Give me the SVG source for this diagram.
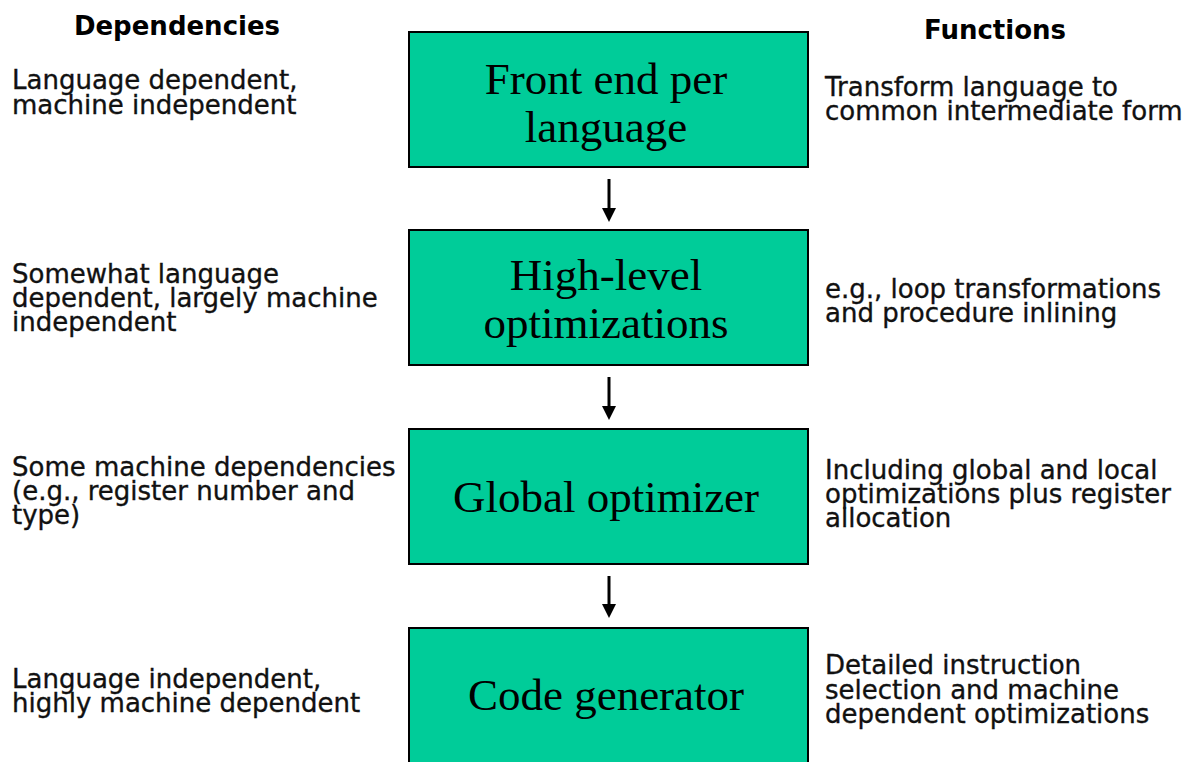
<svg xmlns="http://www.w3.org/2000/svg" width="1197" height="762" viewBox="0 0 1197 762">
  <style>
    .stage { fill: #00CC99; stroke: #000; stroke-width: 2; }
    .stage-text { font-family: "Liberation Serif", "Times New Roman", serif; font-size: 45px; fill: #000; text-anchor: middle; }
    .head { font-family: "DejaVu Sans", Verdana, sans-serif; font-size: 26px; font-weight: bold; fill: #000; text-anchor: middle; }
    .note { font-family: "DejaVu Sans", Verdana, sans-serif; font-size: 26px; fill: #111; stroke: #111; stroke-width: 0.35; }
    .flow { stroke: #000; stroke-width: 3; fill: none; marker-end: url(#arrowhead); }
  </style>
  <defs>
    <marker id="arrowhead" markerUnits="userSpaceOnUse" markerWidth="14" markerHeight="14" refX="4" refY="7" orient="auto">
      <path d="M0,0 L14,7 L0,14 z" fill="#000"/>
    </marker>
  </defs>

  <rect width="1197" height="762" fill="#fff"/>

  <!-- column headings -->
  <g id="headings">
    <text class="head" x="177" y="35">Dependencies</text>
    <text class="head" x="995" y="39">Functions</text>
  </g>

  <!-- compiler stages -->
  <g id="front-end">
    <rect class="stage" x="409" y="32" width="399" height="135"/>
    <text class="stage-text" x="606" y="94">Front end per</text>
    <text class="stage-text" x="606" y="142">language</text>
  </g>
  <g id="high-level">
    <rect class="stage" x="409" y="230" width="399" height="135"/>
    <text class="stage-text" x="606" y="290">High-level</text>
    <text class="stage-text" x="606" y="338">optimizations</text>
  </g>
  <g id="global-optimizer">
    <rect class="stage" x="409" y="429" width="399" height="135"/>
    <text class="stage-text" x="606" y="512">Global optimizer</text>
  </g>
  <g id="code-generator">
    <rect class="stage" x="409" y="628" width="399" height="136"/>
    <text class="stage-text" x="606" y="710">Code generator</text>
  </g>

  <!-- dependency notes (left) -->
  <g id="dep-front-end">
    <text class="note" x="12" y="89">Language dependent,</text>
    <text class="note" x="12" y="114">machine independent</text>
  </g>
  <g id="dep-high-level">
    <text class="note" x="12" y="283">Somewhat language</text>
    <text class="note" x="12" y="307">dependent, largely machine</text>
    <text class="note" x="12" y="331">independent</text>
  </g>
  <g id="dep-global">
    <text class="note" x="12" y="476">Some machine dependencies</text>
    <text class="note" x="12" y="500">(e.g., register number and</text>
    <text class="note" x="12" y="524">type)</text>
  </g>
  <g id="dep-codegen">
    <text class="note" x="12" y="688">Language independent,</text>
    <text class="note" x="12" y="712">highly machine dependent</text>
  </g>

  <!-- function notes (right) -->
  <g id="fn-front-end">
    <text class="note" x="825" y="96">Transform language to</text>
    <text class="note" x="825" y="120">common intermediate form</text>
  </g>
  <g id="fn-high-level">
    <text class="note" x="825" y="298">e.g., loop transformations</text>
    <text class="note" x="825" y="322">and procedure inlining</text>
  </g>
  <g id="fn-global">
    <text class="note" x="825" y="479">Including global and local</text>
    <text class="note" x="825" y="503">optimizations plus register</text>
    <text class="note" x="825" y="527">allocation</text>
  </g>
  <g id="fn-codegen">
    <text class="note" x="825" y="674">Detailed instruction</text>
    <text class="note" x="825" y="699">selection and machine</text>
    <text class="note" x="825" y="723">dependent optimizations</text>
  </g>

  <!-- stage-to-stage arrows -->
  <g id="connectors">
    <line class="flow" x1="609" y1="179" x2="609" y2="212"/>
    <line class="flow" x1="609" y1="377" x2="609" y2="410"/>
    <line class="flow" x1="609" y1="576" x2="609" y2="608"/>
  </g>
</svg>
